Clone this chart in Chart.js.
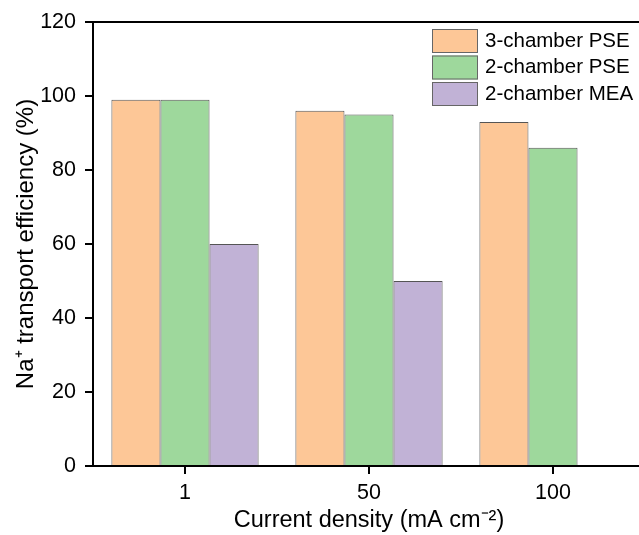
<!DOCTYPE html>
<html>
<head>
<meta charset="utf-8">
<script src="https://cdn.jsdelivr.net/npm/chart.js@4.4.1/dist/chart.umd.min.js"></script>
<style>
  html, body { margin: 0; padding: 0; background: #fff; overflow: hidden; }
  #wrap { width: 660px; height: 535px; }
</style>
</head>
<body>
<div id="wrap"><canvas id="naChart" width="660" height="535"></canvas></div>
<script>
// current density categories (mA cm-2)
const categories = ['1', '50', '100'];
const seriesNames = ['3-chamber PSE', '2-chamber PSE', '2-chamber MEA'];
const threeChamberPSE = [99, 96, 93];
const twoChamberPSE = [99, 95, 86];
const twoChamberMEA = [60, 50, null];
const yTicks = [0, 20, 40, 60, 80, 100, 120];

const fillColors = ['#FDC797', '#9ED89C', '#C1B2D6'];
const FONT = 'Liberation Sans, Arial, sans-serif';

// top frame line + legend box in the top right
const frameAndLegend = {
    id: 'frameAndLegend',
    afterDraw(chart) {
        const ctx = chart.ctx;
        const area = chart.chartArea;
        ctx.save();
        ctx.strokeStyle = '#000';
        ctx.lineWidth = 2;
        ctx.beginPath();
        ctx.moveTo(area.left, area.top);
        ctx.lineTo(chart.width, area.top);
        ctx.stroke();

        ctx.font = '20.5px ' + FONT;
        ctx.textBaseline = 'middle';
        chart.data.datasets.forEach((ds, i) => {
            const y = 29 + i * 26.5;
            ctx.fillStyle = ds.backgroundColor;
            ctx.fillRect(432, y, 46, 24);
            ctx.strokeStyle = '#666';
            ctx.lineWidth = 1;
            ctx.strokeRect(432.5, y + 0.5, 45, 23);
            ctx.fillStyle = '#000';
            ctx.fillText(ds.label, 485, y + 12);
        });
        ctx.restore();
    }
};

const datasets = [threeChamberPSE, twoChamberPSE, twoChamberMEA].map((vals, i) => ({
    label: seriesNames[i],
    data: vals,
    backgroundColor: fillColors[i],
    borderColor: '#555',
    borderWidth: 1,
    borderSkipped: 'bottom',
    barPercentage: 1.0,
    categoryPercentage: 0.8
}));

new Chart(document.getElementById('naChart'), {
    type: 'bar',
    data: { labels: categories, datasets: datasets },
    plugins: [frameAndLegend],
    options: {
        responsive: false,
        animation: false,
        layout: { padding: { top: 22, right: 15, left: 0, bottom: 0 } },
        plugins: {
            legend: { display: false },
            tooltip: { enabled: false }
        },
        scales: {
            x: {
                grid: {
                    offset: false,
                    drawOnChartArea: false,
                    drawTicks: true,
                    tickLength: 8,
                    color: '#000',
                    lineWidth: 2
                },
                border: { color: '#000', width: 2 },
                ticks: {
                    color: '#000',
                    font: { family: FONT, size: 21.5 },
                    padding: 6
                },
                title: {
                    display: true,
                    text: 'Current density (mA cm\u207B\u00B2)',
                    color: '#000',
                    font: { family: FONT, size: 23.5 },
                    padding: { top: 0, bottom: 0 }
                },
                afterFit(scale) { scale.height = 69; }
            },
            y: {
                min: 0,
                max: 120,
                afterBuildTicks(scale) {
                    scale.ticks = yTicks.map(v => ({ value: v }));
                },
                grid: {
                    drawOnChartArea: false,
                    drawTicks: true,
                    tickLength: 8,
                    color: '#000',
                    lineWidth: 2
                },
                border: { color: '#000', width: 2 },
                ticks: {
                    color: '#000',
                    font: { family: FONT, size: 21.5 },
                    padding: 9
                },
                title: {
                    display: true,
                    text: 'Na\u207A transport efficiency (%)',
                    color: '#000',
                    font: { family: FONT, size: 24 },
                    padding: { top: 12, bottom: 4 }
                },
                afterFit(scale) { scale.width = 93; }
            }
        }
    }
});
</script>
</body>
</html>
